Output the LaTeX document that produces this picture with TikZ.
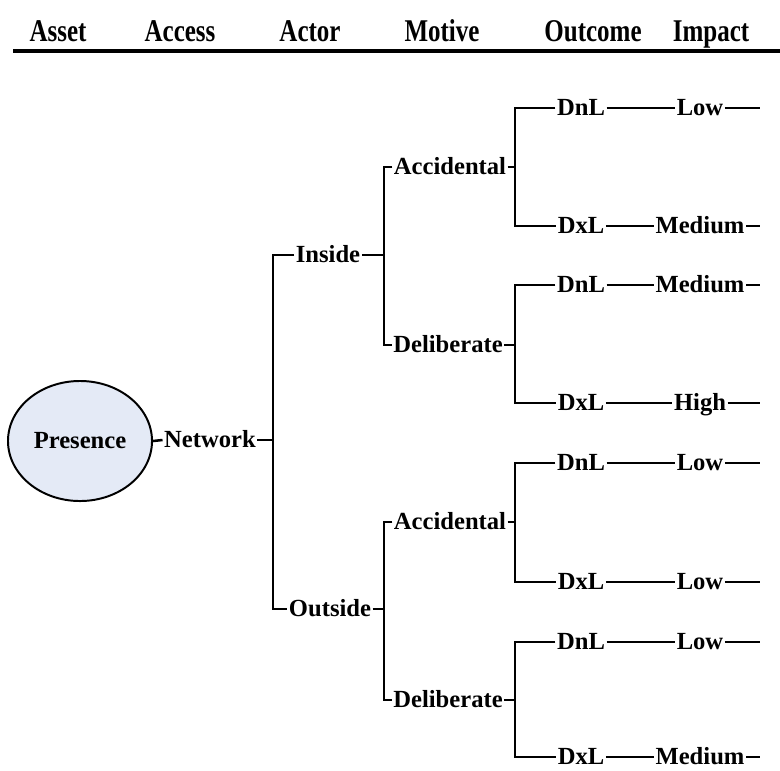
\documentclass[tikz,border=0pt]{standalone}
\usepackage{fontspec}
\setmainfont{Liberation Serif}
\usepackage{xcolor}
\usepackage{tikz}
\usetikzlibrary{shapes.geometric, calc}
\definecolor{presfill}{RGB}{228,234,246}

\tikzset{
    lbl/.style={font=\fontsize{17.5}{20}\selectfont\bfseries, inner sep=1pt, text height=12pt, text depth=1pt},
    head/.style={font=\fontsize{22.5}{26}\selectfont\bfseries, inner sep=0pt, anchor=base},
    link/.style={line width=1.8pt},
}

\begin{document}
\begin{tikzpicture}[x=0.025cm, y=-0.025cm]
    \useasboundingbox (0,0) rectangle (780,770);

    % 表头
    \node[head] (hasset) at (58,41) {\scalebox{0.79}[1]{Asset}};
    \node[head] (haccess) at (180,41) {\scalebox{0.79}[1]{Access}};
    \node[head] (hactor) at (310,41) {\scalebox{0.79}[1]{Actor}};
    \node[head] (hmotive) at (442,41) {\scalebox{0.79}[1]{Motive}};
    \node[head] (houtcome) at (593,41) {\scalebox{0.79}[1]{Outcome}};
    \node[head] (himpact) at (711,41) {\scalebox{0.79}[1]{Impact}};
    \coordinate (rulel) at (13,51);
    \coordinate (ruler) at (780,51);
    \draw[line width=2.2pt] (rulel) -- (ruler);

    % 资产与访问
    \node[draw, ellipse, fill=presfill, line width=1.4pt, minimum width=3.4cm, minimum height=3cm,
          font=\fontsize{17.5}{20}\selectfont\bfseries] (pres) at (80,441) {Presence};
    \node[lbl] (net) at (210,440) {Network};

    % 行为者
    \node[lbl] (ins) at (328,255) {Inside};
    \node[lbl] (outs) at (330,609) {Outside};

    % 动机
    \node[lbl] (acc1) at (450,167) {Accidental};
    \node[lbl] (del1) at (448,345) {Deliberate};
    \node[lbl] (acc2) at (450,522) {Accidental};
    \node[lbl] (del2) at (448,700) {Deliberate};

    % 分支点
    \coordinate (b0) at (273,440);
    \coordinate (b1) at (384,255);
    \coordinate (b2) at (384,609);
    \coordinate (b3) at (515,167);
    \coordinate (b4) at (515,345);
    \coordinate (b5) at (515,522);
    \coordinate (b6) at (515,700);

    % 结果与影响
    \foreach \y/\oc/\im [count=\i] in {108/DnL/Low, 226/DxL/Medium, 285/DnL/Medium, 403/DxL/High,
                                        463/DnL/Low, 582/DxL/Low, 642/DnL/Low, 757/DxL/Medium} {
        \node[lbl] (o\i) at (581,\y) {\oc};
        \node[lbl] (i\i) at (700,\y) {\im};
        \coordinate (e\i) at (760,\y);
        \draw[link] (o\i.east) -- (i\i.west);
        \draw[link] (i\i.east) -- (e\i);
    }

    % 连线
    \draw[link] (pres.east) -- (net.west);
    \draw[link] (net.east) -- (b0);
    \draw[link] (ins.west) -| (b0) |- (outs.west);

    \draw[link] (ins.east) -- (b1);
    \draw[link] (acc1.west) -| (b1) |- (del1.west);
    \draw[link] (outs.east) -- (b2);
    \draw[link] (acc2.west) -| (b2) |- (del2.west);

    \draw[link] (acc1.east) -- (b3);
    \draw[link] (o1.west) -| (b3) |- (o2.west);
    \draw[link] (del1.east) -- (b4);
    \draw[link] (o3.west) -| (b4) |- (o4.west);
    \draw[link] (acc2.east) -- (b5);
    \draw[link] (o5.west) -| (b5) |- (o6.west);
    \draw[link] (del2.east) -- (b6);
    \draw[link] (o7.west) -| (b6) |- (o8.west);
\end{tikzpicture}
\end{document}
